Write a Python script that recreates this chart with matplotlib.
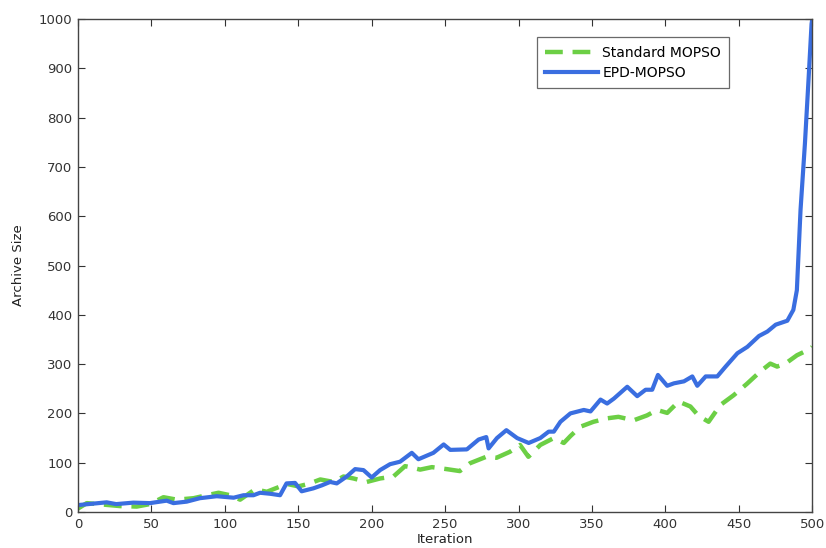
import matplotlib
matplotlib.use("Agg")
from matplotlib import pyplot as plt

# EPD-MOPSO archive size
epd_iter = [0, 19.5, 26, 37.7, 49, 60.4, 65, 74, 83, 94.5, 106, 112.7, 119.5, 124, 130.8, 137.6,
            142, 147.8, 152.3, 160.3, 166, 171.7, 176.2, 183, 188.7, 194.4, 200, 205.7, 212.5,
            219.3, 227.3, 231.8, 242, 249, 253.5, 264.8, 272.8, 278, 279.6, 285.3, 291.7, 299,
            306.9, 314.8, 320.5, 324, 328.5, 335.3, 344.4, 349, 355.8, 360.3, 364.9, 374, 380.8,
            386.5, 391, 394.9, 401.2, 405.8, 412.6, 418.3, 421.7, 427.4, 435.3, 441, 449, 455.8,
            463.7, 469.4, 475.1, 483, 487.1, 489.5, 492, 495, 497.5, 499.5, 500]
epd_size = [14, 19.6, 16, 19, 18, 23, 18, 21, 28, 32, 29, 34, 34, 39, 37, 34,
            58, 59, 42, 48, 54, 61, 58, 72, 87, 85, 70, 85, 97,
            102, 120, 107, 120, 137, 126, 127, 147, 152, 129, 150, 166, 150,
            140, 150, 163, 163, 183, 200, 207, 204, 228, 220, 230, 254, 235,
            248, 248, 278, 256, 261, 265, 275, 256, 275, 275, 295, 322, 335,
            357, 366, 380, 388, 410, 450, 613, 748, 880, 990, 1000]

# Standard MOPSO archive size
std_iter = [0, 6, 28.7, 40, 49, 58.2, 67.3, 78.7, 87.7, 95.7, 103.6, 110.4, 120.6, 128.6,
            142.2, 150, 157, 165, 174, 180.8, 187.6, 196.7, 205.7, 214.8, 222.7, 226, 233,
            241, 251, 260, 267, 278, 285, 294, 301, 306.7, 314.8, 324, 330.8, 335.3, 342.1,
            351, 360.3, 368, 378.4, 387.5, 394.3, 401.2, 409, 417, 422.6, 429.4, 437.4, 446.5,
            455.5, 464.6, 471.4, 476, 481.7, 489.6, 498.7, 500]
std_size = [7, 18, 12, 11, 16, 30, 25, 28, 34, 39, 34, 25, 46, 41,
            57, 52, 57, 66, 61, 72, 68, 61, 68, 72, 93, 91, 86,
            91, 87, 83, 99, 112, 110, 122, 136, 112, 136, 150, 140, 154, 173,
            183, 190, 193, 186, 196, 207, 201, 224, 214, 195, 183, 217, 237,
            260, 285, 301, 295, 301, 318, 331, 335]

x_ticks = list(range(0, 501, 50))
y_ticks = list(range(0, 1001, 100))


def run():
    fig = plt.figure(figsize=(8.26, 5.48), dpi=100)
    ax = fig.add_axes([0.0944, 0.0657, 0.889, 0.8996])

    ax.plot(std_iter, std_size, color="#6ccf45", linestyle=(0, (4, 2.2)), linewidth=3.2,
            label="Standard MOPSO")
    ax.plot(epd_iter, epd_size, color="#3a6ee0", linewidth=3.0, label="EPD-MOPSO")

    ax.set_xlim(0, 500)
    ax.set_ylim(0, 1000)
    ax.set_xticks(x_ticks)
    ax.set_yticks(y_ticks)
    ax.tick_params(direction="in", top=True, right=True, length=5, labelsize=9.5,
                   colors="#333333", pad=4)
    for s in ax.spines.values():
        s.set_color("#444444")
        s.set_linewidth(1.0)

    ax.set_xlabel("Iteration", fontsize=9.5, labelpad=2, color="#222222")
    ax.set_ylabel("Archive Size", fontsize=9.5, labelpad=10, color="#222222")

    leg = ax.legend(loc="upper left", bbox_to_anchor=(0.625, 0.963), fontsize=10,
                    handlelength=3.8, fancybox=False, edgecolor="#444444",
                    borderpad=0.6, labelspacing=0.45, handletextpad=0.3,
                    borderaxespad=0)
    leg.get_frame().set_linewidth(0.9)

    fig.savefig("out.png", dpi=100)


if __name__ == "__main__":
    run()
